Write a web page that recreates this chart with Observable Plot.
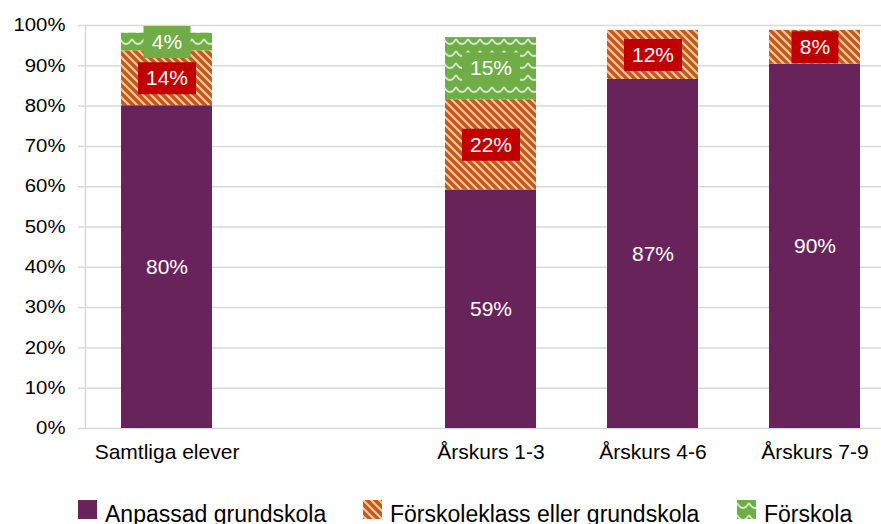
<!DOCTYPE html>
<html><head><meta charset="utf-8">
<script src="https://cdn.jsdelivr.net/npm/d3@7"></script>
<script src="https://cdn.jsdelivr.net/npm/@observablehq/plot@0.6"></script>
<style>
html,body{margin:0;padding:0;background:#fff;overflow:hidden;}
#wrap{position:relative;width:881px;height:524px;font-family:"Liberation Sans",Arial,sans-serif;}
#chart svg{display:block;}
#legend{position:absolute;left:0;top:480px;width:881px;height:44px;}
.sw{position:absolute;top:20px;width:19px;height:19px;display:block;}
.lt{position:absolute;top:22.5px;font-size:23px;line-height:23px;color:#000;white-space:nowrap;}
</style></head>
<body>
<svg width="0" height="0" style="position:absolute">
<defs>
<pattern id="pStripe" patternUnits="userSpaceOnUse" width="8" height="8">
<rect width="8" height="8" fill="#C55A11"/>
<path d="M-2,-2 L10,10 M-2,6 L2,10 M6,-2 L10,2" stroke="#fff" stroke-opacity="0.65" stroke-width="2.2"/>
</pattern>
<pattern id="pWave" patternUnits="userSpaceOnUse" width="12" height="12">
<rect width="12" height="12" fill="#70AD47"/>
<path d="M0,3 Q6,13 12,3" fill="none" stroke="#fff" stroke-opacity="0.7" stroke-width="1.8"/>
</pattern>
</defs></svg>
<div id="wrap"><div id="chart"></div><div id="legend"></div></div>
<script>
const categories = ["Samtliga elever", "Årskurs 1-3", "Årskurs 4-6", "Årskurs 7-9"];
const xDomain = ["Samtliga elever", "", "Årskurs 1-3", "Årskurs 4-6", "Årskurs 7-9"];
const seriesNames = ["Anpassad grundskola", "Förskoleklass eller grundskola", "Förskola"];
const anpassad = [80.1, 59.2, 86.6, 90.4];
const forskoleklass = [13.6, 22.4, 12.2, 8.4];
const forskola = [4.4, 15.4, null, null];
const yTicks = [0, 10, 20, 30, 40, 50, 60, 70, 80, 90, 100];

const seriesFill = ["#68245A", "url(#pStripe)", "url(#pWave)"];
const labelBox = ["none", "#C00000", "#70AD47"];

const rows = [];
categories.forEach((c, i) => {
  [anpassad, forskoleklass, forskola].forEach((arr, s) => {
    if (arr[i] != null) rows.push({category: c, series: seriesNames[s], s, value: arr[i]});
  });
});

const fmt = v => Math.round(v) + "%";
const boxSym = w => ({draw(ctx) {
  ctx.moveTo(-w / 2, -16); ctx.lineTo(w / 2, -16); ctx.lineTo(w / 2, 16); ctx.lineTo(-w / 2, 16); ctx.closePath();
}});
const st = o => Plot.stackY({x: "category", y: "value", z: "series", ...o});

const chart = Plot.plot({
  width: 881, height: 480,
  marginTop: 25, marginBottom: 52, marginLeft: 85, marginRight: 0,
  style: {fontFamily: "'Liberation Sans', Arial, sans-serif", fontSize: "18px", background: "#fff", color: "#000"},
  x: {domain: xDomain, range: [84.4, 895.4], paddingInner: 0.44, paddingOuter: 0.22, align: 0.5},
  y: {domain: [0, 100]},
  color: {type: "identity"},
  marks: [
    Plot.ruleY(yTicks, {stroke: "#d9d9d9", strokeWidth: 1.5}),
    Plot.frame({anchor: "left", stroke: "#d9d9d9", strokeWidth: 1.5}),
    Plot.axisY({ticks: yTicks, tickFormat: d => d + "%", tickSize: 7, tickPadding: 13, stroke: "#d9d9d9", strokeWidth: 1.5, fill: "#000", fontSize: 18, label: null}),
    Plot.axisX({tickSize: 0, tickPadding: 16, fontSize: 21, fill: "#000", label: null}),
    Plot.barY(rows, st({fill: d => seriesFill[d.s]})),
    Plot.dot(rows, st({symbol: boxSym(58), r: 10, fill: d => fmt(d.value).length === 3 ? labelBox[d.s] : "none"})),
    Plot.dot(rows, st({symbol: boxSym(47), r: 10, fill: d => fmt(d.value).length === 2 ? labelBox[d.s] : "none"})),
    Plot.text(rows, st({text: d => fmt(d.value), fill: "#fff", fontSize: 21}))
  ]
});
document.getElementById("chart").appendChild(chart);

document.querySelectorAll('#chart g[aria-label="y-axis tick label"] text').forEach(t => {
  const L = t.getComputedTextLength();
  t.setAttribute("textLength", L * 1.13);
  t.setAttribute("lengthAdjust", "spacingAndGlyphs");
});

const legendX = [78, 363, 737];
const legend = document.getElementById("legend");
seriesNames.forEach((name, i) => {
  const ns = "http://www.w3.org/2000/svg";
  const sw = document.createElementNS(ns, "svg");
  sw.setAttribute("class", "sw");
  sw.setAttribute("width", 19); sw.setAttribute("height", 19);
  sw.style.left = legendX[i] + "px";
  const r = document.createElementNS(ns, "rect");
  r.setAttribute("width", 19); r.setAttribute("height", 19);
  r.setAttribute("fill", seriesFill[i]);
  sw.appendChild(r);
  legend.appendChild(sw);
  const t = document.createElement("span");
  t.className = "lt";
  t.style.left = (legendX[i] + 27) + "px";
  t.textContent = name;
  legend.appendChild(t);
});
</script>
</body></html>
